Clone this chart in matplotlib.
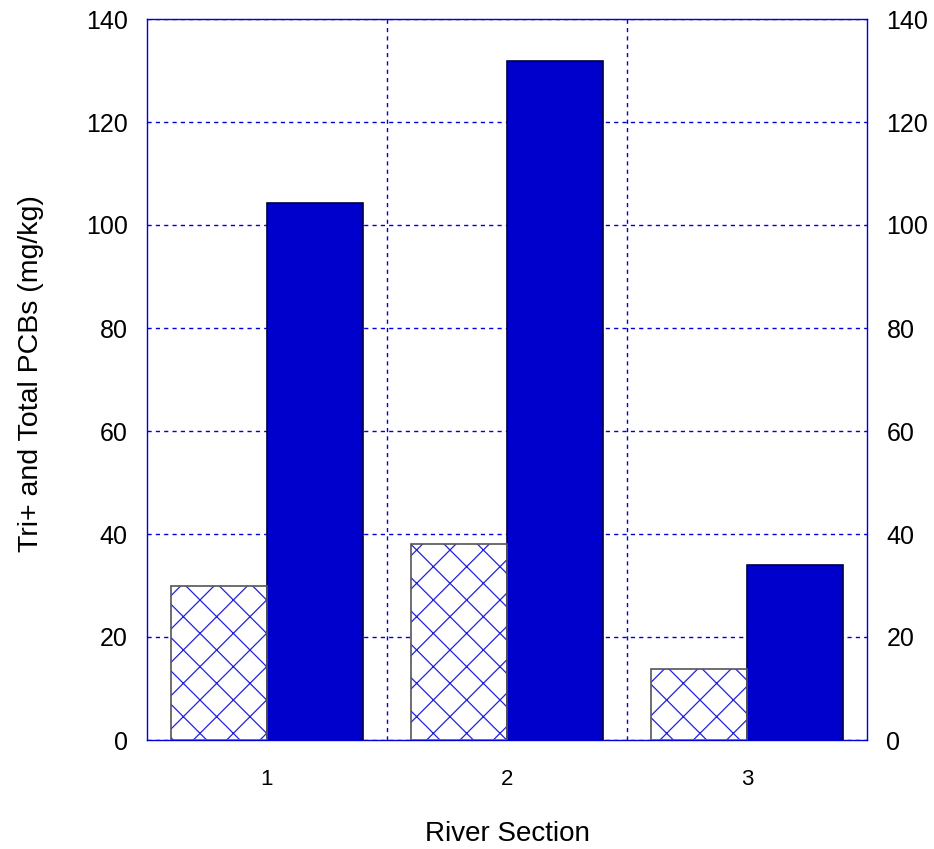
import matplotlib
matplotlib.use("Agg")
import matplotlib.pyplot as plt
import numpy as np

plt.rcParams['font.family'] = ['Liberation Sans', 'DejaVu Sans']
plt.rcParams['hatch.linewidth'] = 0.9

sections = [1, 2, 3]
tri_plus = [30.0, 38.0, 13.8]
total_pcbs = [104.3, 131.8, 34.0]
yticks = [0, 20, 40, 60, 80, 100, 120, 140]

W, H = 934, 849
fig = plt.figure(figsize=(W/100, H/100), dpi=100)
ax = fig.add_axes([147/W, (H-740)/H, (867-147)/W, (740-19)/H])

x = np.array(sections, dtype=float)
bw = 0.4
# hatched bars: blue hatch, then grey outline on top
ax.bar(x - bw/2, tri_plus, width=bw, color='white', edgecolor='#2222DD',
       hatch='x', linewidth=0, zorder=3)
ax.bar(x - bw/2, tri_plus, width=bw, fill=False, edgecolor='#555555',
       linewidth=1.2, zorder=4)
ax.bar(x + bw/2, total_pcbs, width=bw, color='#0000CC', edgecolor='#000044',
       linewidth=1.2, zorder=3)

ax.set_xlim(0.5, 3.5)
ax.set_ylim(0, 140)
ax.set_xticks(sections)
ax.set_xticklabels([str(s) for s in sections], fontsize=16)
ax.set_xticks([1.5, 2.5], minor=True)
ax.set_yticks(yticks)
ax.tick_params(axis='both', which='both', length=0)
ax.tick_params(axis='y', labelsize=18, right=True, labelright=True, pad=14)
ax.tick_params(axis='x', pad=21)

ax.grid(True, axis='y', which='major', color='#0000DD', linestyle=(0, (3, 3)), linewidth=1.0, zorder=1)
ax.grid(True, axis='x', which='minor', color='#0000DD', linestyle=(0, (3, 3)), linewidth=1.0, zorder=1)
for s in ax.spines.values():
    s.set_color('#0000DD')
    s.set_linewidth(1.0)

ax.set_xlabel('River Section', fontsize=20)
ax.set_ylabel('Tri+ and Total PCBs (mg/kg)', fontsize=20.5)
ax.xaxis.set_label_coords(0.5, (740 - 821) / 721)
ax.yaxis.set_label_coords((44 - 147) / 720, (740 - 374) / 721)

fig.savefig('out.png', dpi=100)
